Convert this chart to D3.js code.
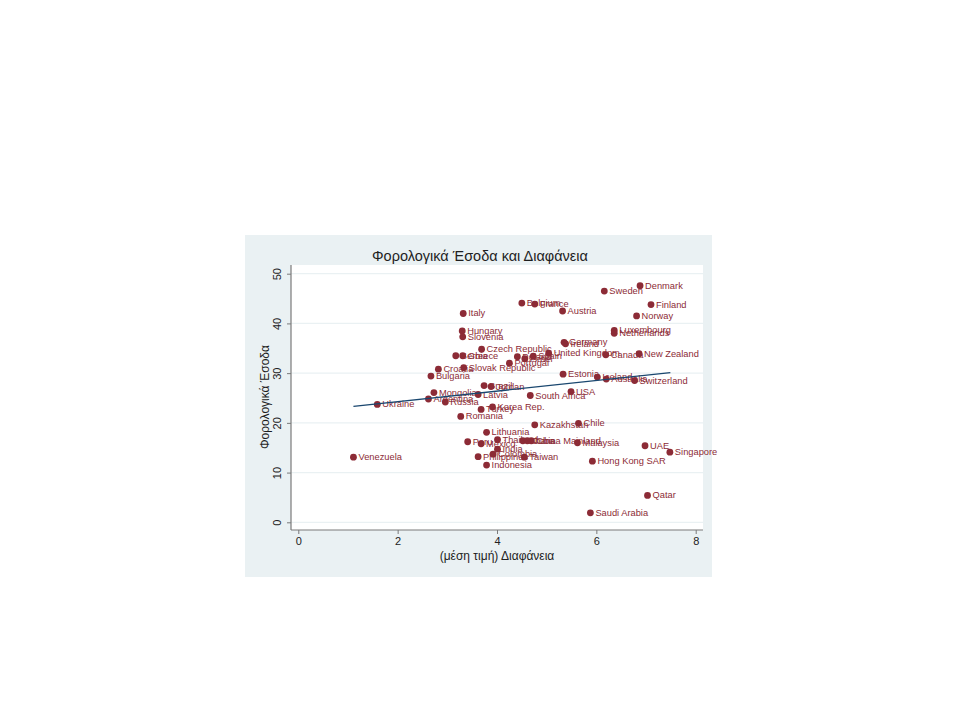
<!DOCTYPE html>
<html>
<head>
<meta charset="utf-8">
<script src="https://cdn.jsdelivr.net/npm/d3@7"></script>
<style>
  body { margin: 0; background: #ffffff; }
  svg { display: block; }
  text { font-family: "Liberation Sans", Arial, sans-serif; }
</style>
</head>
<body>
<svg id="chart" width="960" height="720"></svg>
<script>
// ---- data ----
const countries = ["Denmark","Sweden","Finland","Norway","Belgium","France","Austria","Italy","Hungary","Slovenia",
  "Luxembourg","Netherlands","Germany","Ireland","Czech Republic","Serbia","Greece","Portugal","Poland","Israel",
  "Spain","United Kingdom","Slovak Republic","Croatia","Bulgaria","Canada","New Zealand","Estonia","Iceland","Australia",
  "Switzerland","USA","South Africa","Brazil","Jordan","Mongolia","Argentina","Russia","Latvia","Turkey",
  "Korea Rep.","Romania","Ukraine","Venezuela","Kazakhstan","Chile","Lithuania","Peru","Mexico","Thailand",
  "Ghana","Cuba","China Mainland","Malaysia","India","Colombia","Philippines","Taiwan","Indonesia","UAE",
  "Singapore","Hong Kong SAR","Qatar","Saudi Arabia"];
const transparency = [6.88,6.16,7.10,6.81,4.50,4.76,5.32,3.32,3.30,3.31,
  6.36,6.36,5.35,5.38,3.69,3.17,3.31,4.25,4.41,4.56,
  4.73,5.04,3.33,2.82,2.67,6.19,6.86,5.33,6.02,6.20,
  6.77,5.49,4.67,3.74,3.88,2.73,2.62,2.96,3.62,3.68,
  3.91,3.27,1.59,1.11,4.76,5.64,3.79,3.41,3.68,4.01,
  4.52,4.61,4.69,5.62,4.01,3.92,3.62,4.55,3.79,6.98,
  7.48,5.92,7.03,5.88];
const taxRevenue = [47.6,46.5,43.8,41.5,44.1,43.9,42.5,42.0,38.5,37.3,
  38.6,38.0,36.2,35.9,34.8,33.5,33.5,32.0,33.3,32.9,
  33.4,34.0,31.1,30.8,29.4,33.7,33.9,29.8,29.2,28.8,
  28.5,26.3,25.5,27.5,27.3,26.1,24.8,24.2,25.7,22.7,
  23.2,21.3,23.7,13.1,19.6,19.9,18.1,16.2,15.8,16.6,
  16.4,16.4,16.4,16.0,14.7,13.7,13.2,13.1,11.5,15.4,
  14.1,12.3,5.4,1.9];
// linear fit line end points
const fitX = [1.11, 7.49];
const fitY = [23.3, 30.1];
const xTicks = [0, 2, 4, 6, 8];
const yTicks = [0, 10, 20, 30, 40, 50];
const titleText = "Φορολογικά Έσοδα και Διαφάνεια";
const xTitle = "(μέση τιμή) Διαφάνεια";
const yTitle = "Φορολογικά Έσοδα";

// ---- layout ----
const svg = d3.select("#chart");
const outer = {x0: 245, y0: 235, x1: 712, y1: 577};
const plot = {x0: 291, y0: 265, x1: 703, y1: 530};
const bg = "#eaf1f3";
const maroon = "#8c2b36";
const navy = "#1a476f";

const x = d3.scaleLinear().domain([0, 8]).range([298.3, 695.7]);
const y = d3.scaleLinear().domain([0, 50]).range([522.3, 273.7]);

svg.append("rect").attr("x", outer.x0).attr("y", outer.y0)
  .attr("width", outer.x1 - outer.x0).attr("height", outer.y1 - outer.y0).attr("fill", bg);
svg.append("rect").attr("x", plot.x0).attr("y", plot.y0)
  .attr("width", plot.x1 - plot.x0).attr("height", plot.y1 - plot.y0).attr("fill", "#ffffff");

// gridlines
svg.append("g").selectAll("line").data(yTicks).join("line")
  .attr("x1", plot.x0).attr("x2", plot.x1)
  .attr("y1", d => y(d)).attr("y2", d => y(d))
  .attr("stroke", bg).attr("stroke-width", 1.2);

// axes
const axisColor = "#7a7a7a";
const xAxis = d3.axisBottom(x).tickValues(xTicks).tickSize(4).tickPadding(3).tickFormat(d3.format("d"));
const gx = svg.append("g").attr("transform", `translate(0,${plot.y1})`).call(xAxis);
gx.select(".domain").remove();
gx.append("line").attr("x1", plot.x0).attr("x2", plot.x1).attr("y1", 0).attr("y2", 0)
  .attr("stroke", axisColor).attr("stroke-width", 1.2);
gx.selectAll(".tick line").attr("stroke", axisColor);
gx.selectAll(".tick text").attr("font-size", 11).attr("fill", "#222")
  .attr("font-family", "'Liberation Sans', Arial, sans-serif");

const yAxis = d3.axisLeft(y).tickValues(yTicks).tickSize(4).tickPadding(3).tickFormat(d3.format("d"));
const gy = svg.append("g").attr("transform", `translate(${plot.x0},0)`).call(yAxis);
gy.select(".domain").remove();
gy.append("line").attr("x1", 0).attr("x2", 0).attr("y1", plot.y0).attr("y2", plot.y1)
  .attr("stroke", axisColor).attr("stroke-width", 1.2);
gy.selectAll(".tick line").attr("stroke", axisColor);
gy.selectAll(".tick text")
  .attr("font-size", 11).attr("fill", "#222")
  .attr("font-family", "'Liberation Sans', Arial, sans-serif")
  .attr("x", null).attr("dy", null)
  .attr("text-anchor", "middle")
  .attr("transform", "translate(-14,0) rotate(-90)")
  .attr("dominant-baseline", "central");

// points with labels
const data = countries.map((c, i) => ({name: c, tx: transparency[i], tax: taxRevenue[i]}));
const pts = svg.append("g").selectAll("g").data(data).join("g");
pts.append("circle")
  .attr("cx", d => x(d.tx)).attr("cy", d => y(d.tax)).attr("r", 3.4)
  .attr("fill", maroon);
pts.append("text")
  .attr("x", d => x(d.tx) + 5).attr("y", d => y(d.tax))
  .attr("dominant-baseline", "central")
  .attr("font-size", 9.3).attr("fill", maroon)
  .text(d => d.name);

// fit line
svg.append("line")
  .attr("x1", x(fitX[0])).attr("y1", y(fitY[0]))
  .attr("x2", x(fitX[1])).attr("y2", y(fitY[1]))
  .attr("stroke", navy).attr("stroke-width", 1.3);

// titles
svg.append("text").attr("x", 480).attr("y", 256).attr("text-anchor", "middle")
  .attr("dominant-baseline", "central").attr("font-size", 14.5).attr("fill", "#1e1e1e")
  .text(titleText);
svg.append("text").attr("x", 497).attr("y", 556).attr("text-anchor", "middle")
  .attr("dominant-baseline", "central").attr("font-size", 12).attr("fill", "#1e1e1e")
  .text(xTitle);
svg.append("text").attr("transform", "translate(265,397) rotate(-90)").attr("text-anchor", "middle")
  .attr("dominant-baseline", "central").attr("font-size", 12).attr("fill", "#1e1e1e")
  .text(yTitle);
</script>
</body>
</html>
